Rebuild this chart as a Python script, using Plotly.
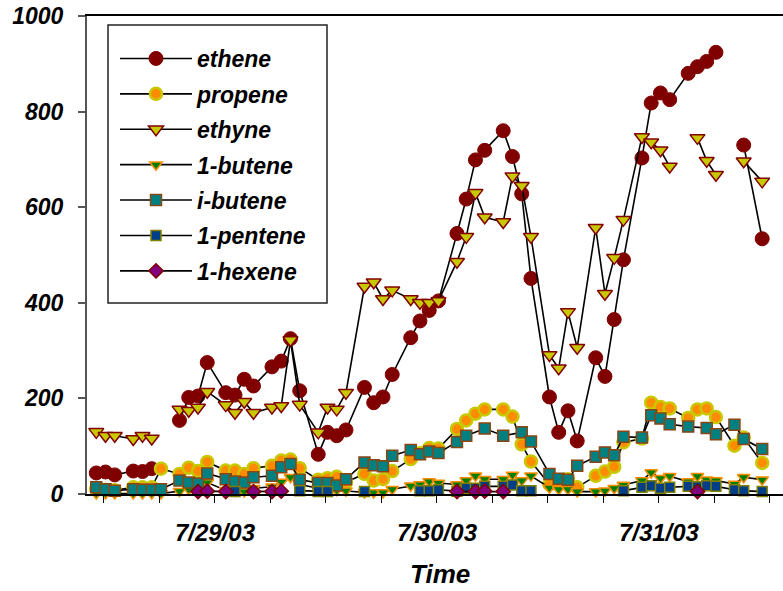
import pandas as pd
import plotly.graph_objects as go

# Sample hours counted from 2003-07-28 00:00; each sample is logged 10 min past the hour.
sample_hour = [11, 12, 13, 15, 16, 17, 18,
               20, 21, 22, 23, 25, 26, 27, 28, 30, 31, 32, 33,
               35, 36, 37, 38, 40, 41, 42, 43, 45, 46, 47, 48,
               50, 51, 52, 53, 55, 56, 57, 58,
               60, 61, 62, 63, 65, 66, 67, 68,
               70, 71, 72, 73, 75, 76, 77, 78,
               80, 81, 83]

ethene = [44, 46, 40, 48, 47, 53, None,
          154, 202, 205, 275, 212, 207, 240, 226, 266, 278, 325, 216,
          83, 129, 122, 134, 223, 191, 203, 250, 327, 362, 384, 404,
          545, 617, 699, 719, 760, 706, 628, 451,
          203, 129, 174, 111, 285, 246, 365, 490,
          703, 818, 839, 825, 880, 894, 905, 924,
          None, 730, 534]

propene = [11, 9, 8, 14, 14, 14, 53,
           42, 55, 48, 67, 49, 49, 42, 54, 59, 70, 72, 54,
           30, 33, 36, 25, 42, 28, 31, 48, 73, 85, 96, 95,
           136, 154, 168, 177, 177, 162, 104, 68,
           20, 25, 31, 14, 38, 47, 57, 108,
           116, 191, 182, 179, 159, 177, 179, 161,
           101, 118, 65]

ethyne = [130, 122, 122, 115, 122, 116, None,
          177, 174, 181, 214, 186, 170, 193, 170, 181, 184, 322, 187,
          129, 181, 177, 212, 434, 443, 408, 426, 408, 400, 400, 404,
          486, 538, 630, 579, 569, 665, 645, 538,
          291, 263, 381, 306, 557, 419, 494, 574,
          747, 736, 719, 685, None, 745, 697, 668,
          None, 696, 654]

butene_1 = [1, 1, 1, 1, 1, 1, 1,
            6, 10, 12, 24, 8, 6, 5, 12, 15, 25, 35, 20,
            12, 10, 8, 7, 3, 3, 3, 10, 17, 20, 26, 23,
            20, 28, 38, 31, 31, 40, 28, 38,
            13, 10, 10, 5, 5, 7, 12, 19,
            28, 45, 33, 37, 26, 37, 30, 28,
            21, 35, 30]

butene_i = [14, 10, 7, 10, 9, 9, 10,
            28, 24, 22, 43, 31, 26, 24, 35, 38, 56, 63, 30,
            23, 23, 18, 31, 66, 60, 58, 80, 92, 83, 89, 86,
            109, 122, None, 137, 122, None, 129, 110,
            42, 32, 30, 59, 78, 87, 81, 120,
            118, 165, 158, 146, 141, None, 138, 125,
            145, 115, 94]

pentene_1 = [None, None, None, None, None, None, None,
             None, None, None, None, None, 5, None, None, None, None, None, 7,
             5, 5, None, None, 5, None, None, None, None, 7, 7, 9,
             6, 12, 12, 16, 16, 19, 7, 7,
             None, None, None, None, None, None, None, 7,
             14, 17, 12, 14, 16, 15, 17, 16,
             9, 7, 5]

hexene_1 = [None, None, None, None, None, None, None,
            None, None, 5, 6, 5, None, None, 5, 5, 6, None, None,
            None, None, None, None, None, None, None, None, None, None, None, None,
            5, None, 5, 6, 5, None, None, None,
            None, None, None, None, None, None, None, None,
            None, None, None, None, None, 5, None, None,
            None, None, None]

series_names = ["ethene", "propene", "ethyne", "1-butene", "i-butene", "1-pentene", "1-hexene"]
series_values = [ethene, propene, ethyne, butene_1, butene_i, pentene_1, hexene_1]

# marker styling per compound: (symbol, size, fill, edge colour, edge width)
marker_styles = [
    ("circle", 14, "#800000", "#800000", 1),
    ("circle", 12, "#FF8C00", "#C8C800", 2.5),
    ("triangle-down", 13, "#C8C800", "#800000", 1.5),
    ("triangle-down", 11, "#008000", "#FF8C00", 1.5),
    ("square", 11, "#008080", "#8B4513", 1.5),
    ("square", 10, "#003F87", "#808000", 1.5),
    ("diamond", 11, "#800080", "#800000", 1.5),
]

t0 = pd.Timestamp("2003-07-28 00:10")
sample_time = [t0 + pd.Timedelta(hours=h) for h in sample_hour]


def with_breaks(values):
    """Drop missing samples; break the line where consecutive samples are > 2 h apart."""
    xs, ys, prev = [], [], None
    for h, t, v in zip(sample_hour, sample_time, values):
        if v is None:
            continue
        if prev is not None and h - prev > 2:
            xs.append(None)
            ys.append(None)
        xs.append(t)
        ys.append(v)
        prev = h
    return xs, ys


label_font = dict(family="Liberation Sans, Arial, sans-serif", color="black",
                  weight="bold", style="italic")

fig = go.Figure()
for i, (name, vals, st) in enumerate(zip(series_names, series_values, marker_styles)):
    xs, ys = with_breaks(vals)
    sym, size, fill, edge, ew = st
    fig.add_trace(go.Scatter(
        x=xs, y=ys, name=name, mode="lines+markers",
        line=dict(color="black", width=1.6),
        marker=dict(symbol=sym, size=size, color=fill, line=dict(color=edge, width=ew)),
        cliponaxis=False, legendgroup=name,
    ))

# tick every 6 hours, date label at midnight
tick_times = pd.date_range("2003-07-28 06:00", "2003-07-31 18:00", freq="6h")
tick_text = [t.strftime("%-m/%-d/%y") if t.hour == 0 else "" for t in tick_times]

fig.update_xaxes(
    type="date", range=["2003-07-28 10:10", "2003-07-31 13:25"],
    tickvals=list(tick_times), ticktext=tick_text,
    ticks="outside", ticklen=7, tickwidth=1.2, tickcolor="black",
    showline=True, linecolor="black", linewidth=1.5, mirror=True,
    showgrid=False, zeroline=False,
    tickfont=dict(size=24, **label_font), ticklabelstandoff=9,
)
fig.update_yaxes(
    range=[0, 1000], tickvals=[0, 200, 400, 600, 800, 1000],
    ticks="outside", ticklen=7, tickwidth=1.5, tickcolor="#555555",
    showline=True, linecolor="#555555", linewidth=2, mirror=False,
    showgrid=False, zeroline=False,
    tickfont=dict(size=23, **label_font), ticklabelstandoff=10,
)

fig.add_annotation(text="Time", xref="paper", yref="paper", x=0.507, y=-0.168,
                   showarrow=False, xanchor="center", yanchor="middle",
                   font=dict(size=26, **label_font))

# legend frame
fig.add_shape(type="rect", xref="paper", yref="paper",
              x0=21 / 696, x1=240 / 696, y0=(494 - 303) / 478, y1=(494 - 25) / 478,
              line=dict(color="#222222", width=1.5), fillcolor="white", layer="above")

fig.update_layout(
    width=783, height=591,
    margin=dict(l=87, r=0, t=16, b=97, autoexpand=False),
    paper_bgcolor="white", plot_bgcolor="white",
    showlegend=True,
    legend=dict(x=(115 - 87) / 696, y=(494 - 37) / 478, xref="paper", yref="paper",
                xanchor="left", yanchor="top", bgcolor="rgba(0,0,0,0)",
                borderwidth=0,
                font=dict(size=23, **label_font), tracegroupgap=2.5, itemwidth=72,
                traceorder="grouped"),
)

fig.write_html("out.html")
